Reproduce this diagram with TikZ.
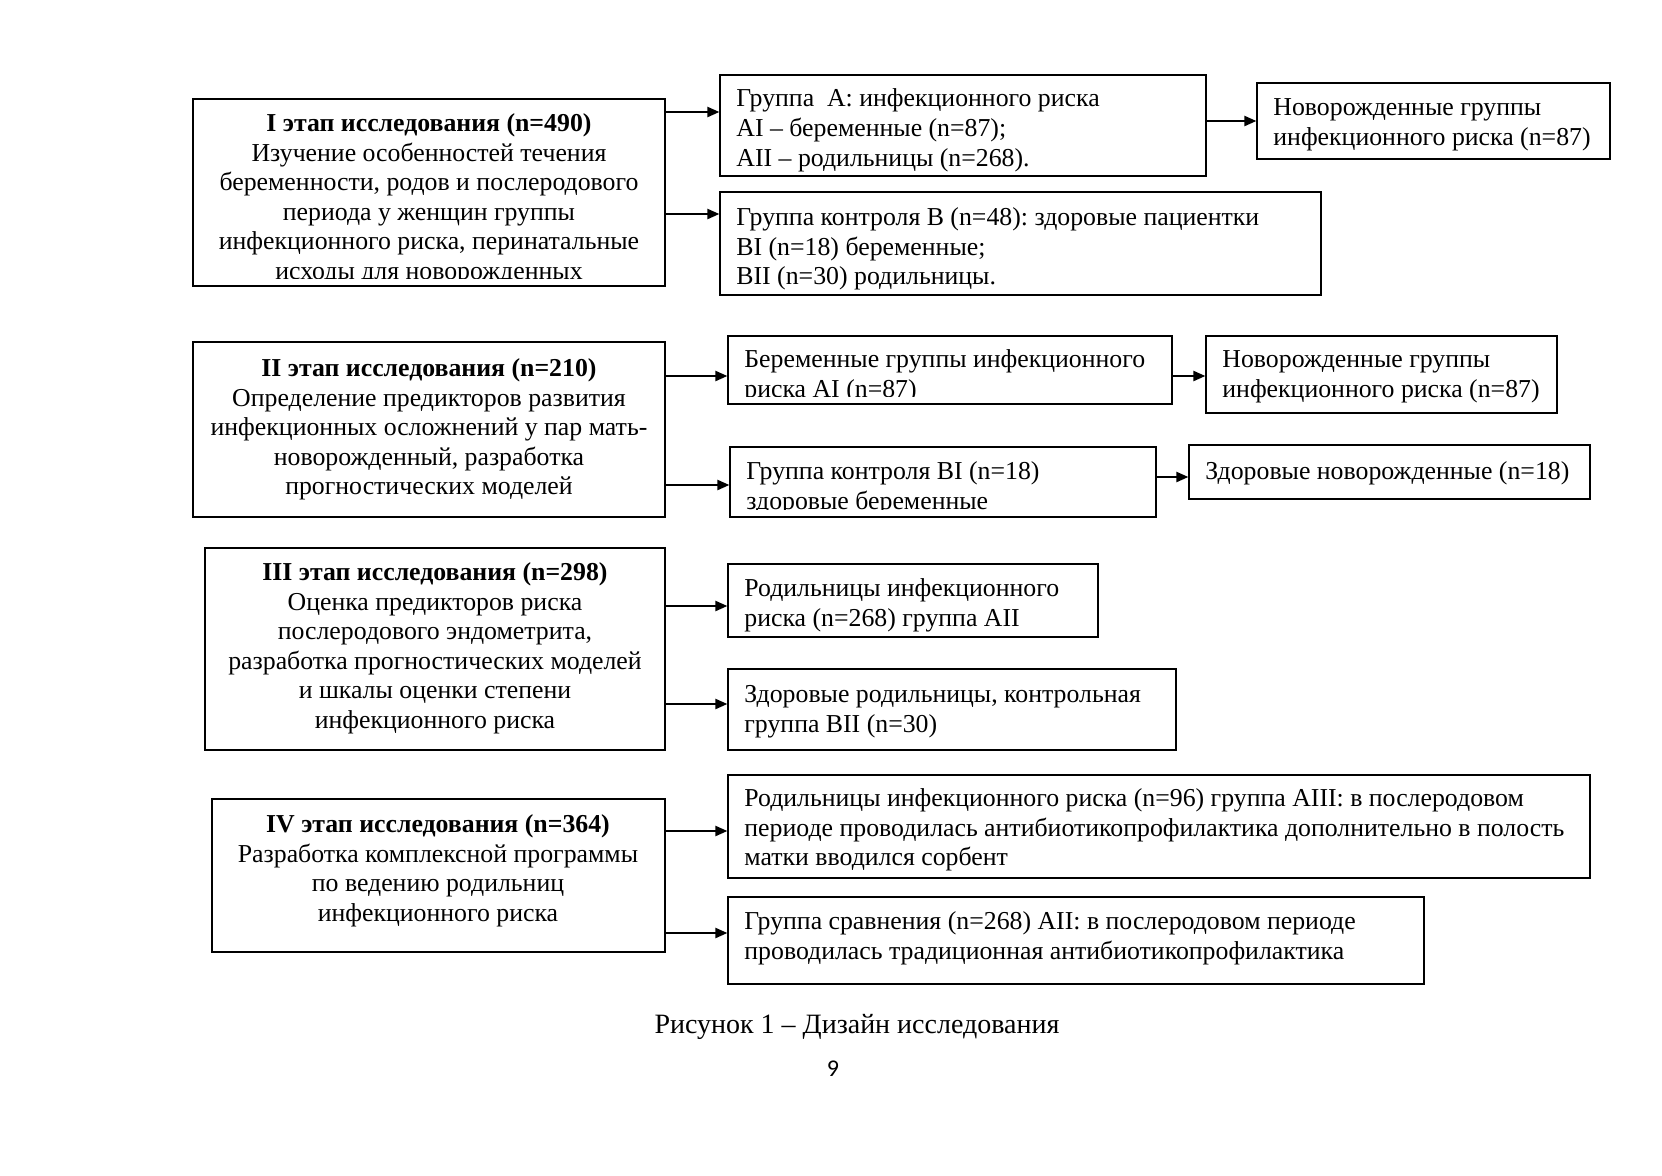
\documentclass[tikz,border=0pt]{standalone}
\usepackage{fontspec}
\setmainfont{Liberation Serif}
\newfontfamily\pgnum{Carlito}
\usetikzlibrary{arrows.meta,fit,calc}
\newcommand\st{\rule{0pt}{11pt}}
\newcommand\bx[5]{\node[boxst, fit={(#2,#3)(#4,#5)}] (#1) {};}
\begin{document}
\begin{tikzpicture}[x=0.5pt,y=-0.5pt,
 boxst/.style={draw,line width=0.6pt,inner sep=0pt},
 txt/.style={inner sep=0pt,align=left,anchor=north west,font=\fontsize{12.9}{14.8}\selectfont},
 txtc/.style={txt,align=center,anchor=north},
 arr/.style={line width=1.1pt,-{Triangle[length=6pt,width=5pt]}}]
\useasboundingbox (0,0) rectangle (1662,1175);
% boxes
\bx{bI}{193}{99}{665}{286}
\bx{bA}{720}{75}{1206}{176}
\bx{nbI}{1257}{83}{1610}{159}
\bx{bB}{720}{192}{1321}{295}
\bx{bII}{193}{342}{665}{517}
\bx{aI}{728}{336}{1172}{404}
\bx{nbII}{1206}{336}{1557}{413}
\bx{bBI}{730}{447}{1156}{517}
\bx{hnb}{1189}{445}{1590}{499}
\bx{bIII}{205}{548}{665}{750}
\bx{aII}{728}{564}{1098}{637}
\bx{bBII}{728}{669}{1176}{750}
\bx{bIV}{212}{799}{665}{952}
\bx{aIII}{728}{775}{1590}{878}
\bx{cmp}{728}{897}{1424}{984}
% texts
\begin{scope}
\clip (193,99) rectangle (665,278);
\node[txtc] (tI) at (429,109) {\st\textbf{I этап исследования (n=490)}\\Изучение особенностей течения\\беременности, родов и послеродового\\периода у женщин группы\\инфекционного риска, перинатальные\\исходы для новорожденных};
\end{scope}
\node[txt] (tA) at (736,84.5) {\st Группа\ \ A: инфекционного риска\\AI – беременные (n=87);\\AII – родильницы (n=268).};
\node[txt] (tnbI) at (1273,93) {\st Новорожденные группы\\инфекционного риска (n=87)};
\node[txt] (tB) at (736,203) {\st Группа контроля B (n=48):~здоровые пациентки\\BI (n=18) беременные;\\BII (n=30) родильницы.};
\node[txtc] (tII) at (429,354) {\st\textbf{II этап исследования (n=210)}\\Определение предикторов развития\\инфекционных осложнений у пар мать-\\новорожденный, разработка\\прогностических моделей};
\begin{scope}
\clip (728,336) rectangle (1172,396);
\node[txt] (taI) at (744,345) {\st Беременные группы инфекционного\\риска AI (n=87)};
\end{scope}
\node[txt] (tnbII) at (1222,345) {\st Новорожденные группы\\инфекционного риска (n=87)};
\begin{scope}
\clip (730,447) rectangle (1156,509);
\node[txt] (tBI) at (746,457) {\st Группа контроля BI (n=18)\\здоровые беременные};
\end{scope}
\node[txt] (thnb) at (1205,457) {\st Здоровые новорожденные (n=18)};
\node[txtc] (tIII) at (435,558) {\st\textbf{III этап исследования (n=298)}\\Оценка предикторов риска\\послеродового эндометрита,\\разработка прогностических моделей\\и шкалы оценки степени\\инфекционного риска};
\node[txt] (taII) at (744,574) {\st Родильницы инфекционного\\риска (n=268) группа AII};
\node[txt] (tBII) at (744,680) {\st Здоровые родильницы, контрольная\\группа BII (n=30)};
\node[txtc] (tIV) at (438,810) {\st\textbf{IV этап исследования (n=364)}\\Разработка комплексной программы\\по ведению родильниц\\инфекционного риска};
\node[txt] (taIII) at (744,784) {\st Родильницы инфекционного риска (n=96) группа AIII: в послеродовом\\периоде проводилась антибиотикопрофилактика дополнительно в полость\\матки вводился сорбент};
\node[txt] (tcmp) at (744,907) {\st Группа сравнения (n=268) AII: в послеродовом периоде\\проводилась традиционная антибиотикопрофилактика};
\node[txtc,font=\fontsize{14}{16}\selectfont] (cap) at (857,1011) {\st Рисунок 1 – Дизайн исследования};
\node[inner sep=0pt,font=\pgnum\fontsize{12}{14}\selectfont] (pg) at (833,1069) {9};
% arrows
\coordinate (y1) at (0,112);
\coordinate (y2) at (0,214);
\coordinate (y3) at (0,121);
\coordinate (y4) at (0,376);
\coordinate (y5) at (0,485);
\coordinate (y6) at (0,477);
\coordinate (y7) at (0,606);
\coordinate (y8) at (0,704);
\coordinate (y9) at (0,831);
\coordinate (y10) at (0,933);
\draw[arr] (bI.east |- y1) -- (bA.west |- y1);
\draw[arr] (bI.east |- y2) -- (bB.west |- y2);
\draw[arr] (bA.east |- y3) -- (nbI.west |- y3);
\draw[arr] (bII.east |- y4) -- (aI.west |- y4);
\draw[arr] (aI.east |- y4) -- (nbII.west |- y4);
\draw[arr] (bII.east |- y5) -- (bBI.west |- y5);
\draw[arr] (bBI.east |- y6) -- (hnb.west |- y6);
\draw[arr] (bIII.east |- y7) -- (aII.west |- y7);
\draw[arr] (bIII.east |- y8) -- (bBII.west |- y8);
\draw[arr] (bIV.east |- y9) -- (aIII.west |- y9);
\draw[arr] (bIV.east |- y10) -- (cmp.west |- y10);
\end{tikzpicture}
\end{document}
